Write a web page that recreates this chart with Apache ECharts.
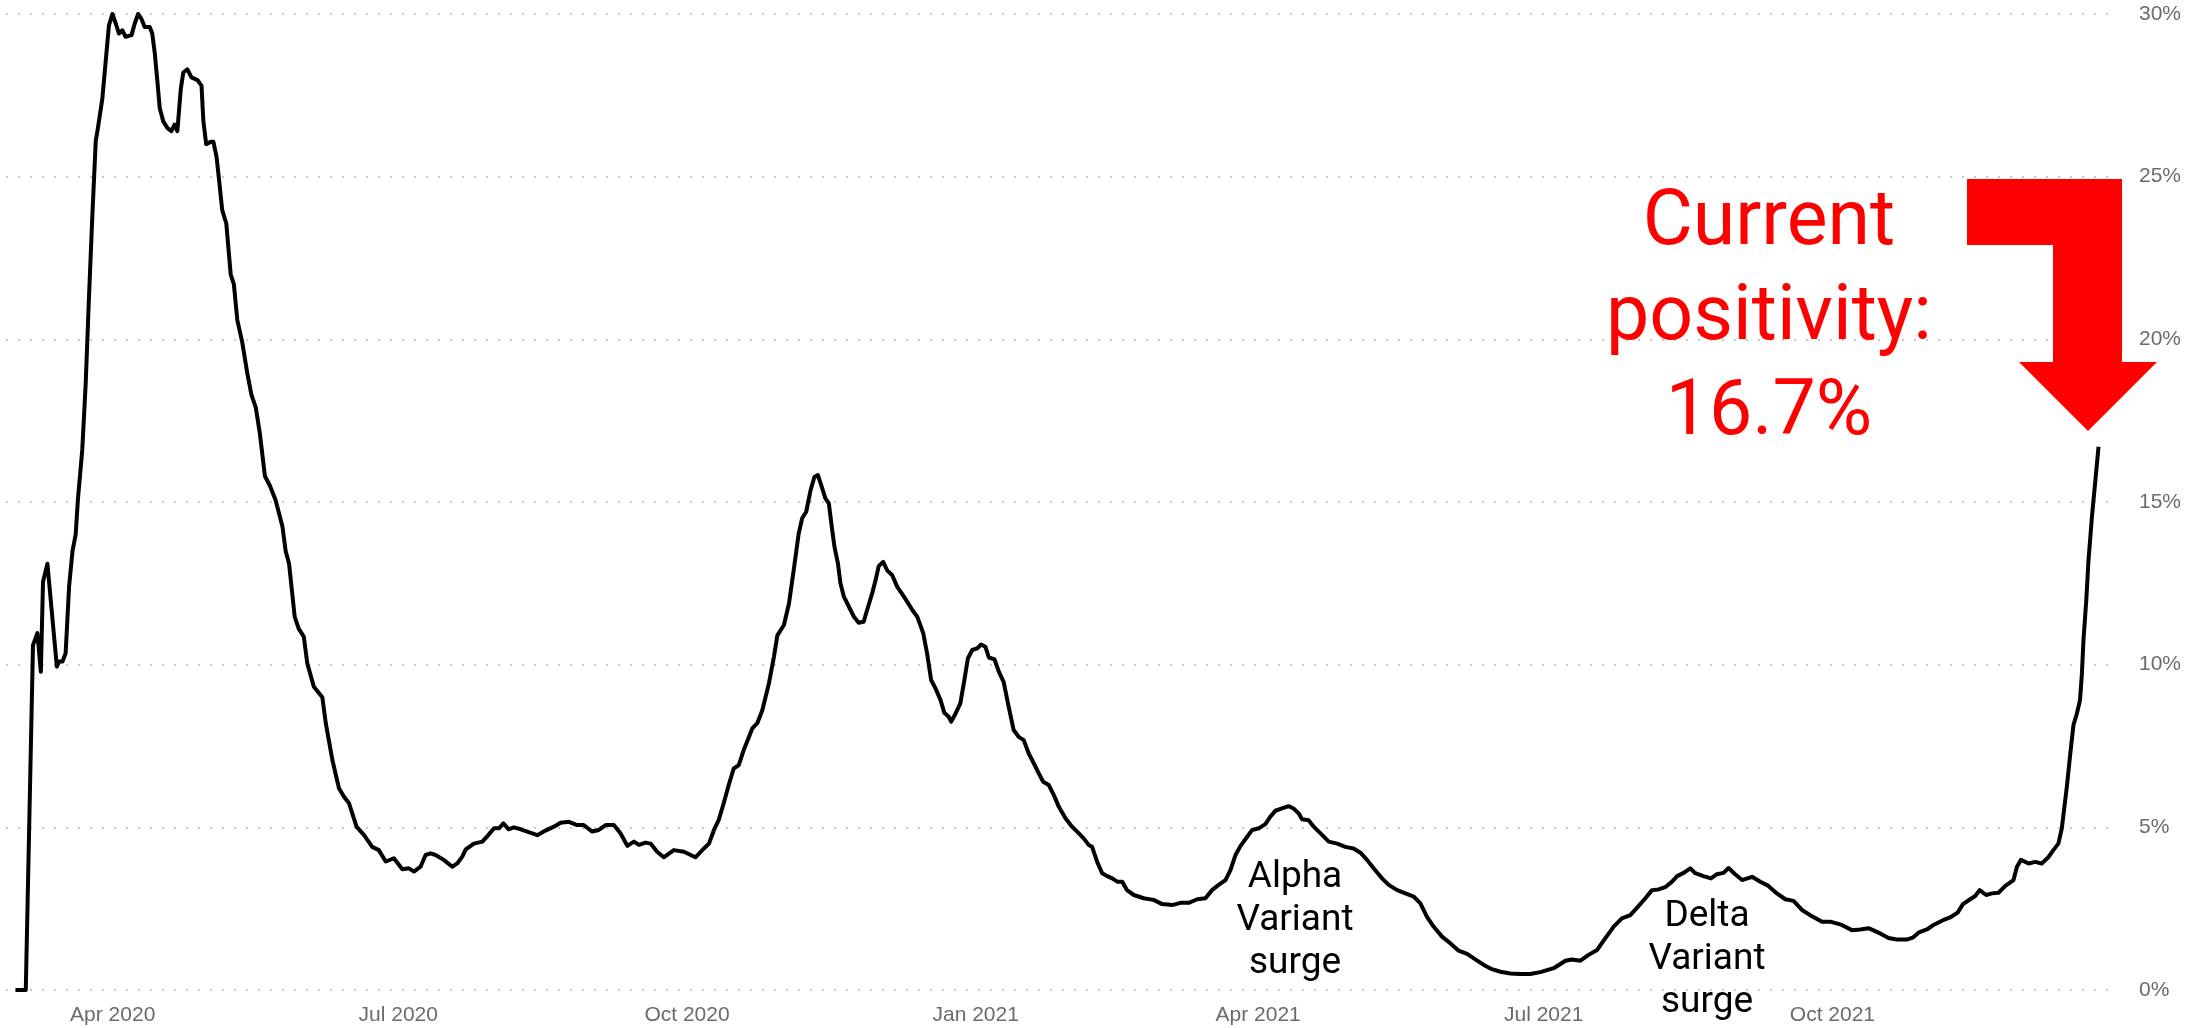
<!DOCTYPE html>
<html>
<head>
<meta charset="utf-8">
<title>Test positivity</title>
<script src="https://cdn.jsdelivr.net/npm/echarts@6/dist/echarts.min.js"></script>
<style>
  html, body { margin: 0; padding: 0; background: #fff; }
  #chart { width: 2206px; height: 1028px; }
</style>
</head>
<body>
<div id="chart"></div>
<script>
// days since 2020-03-01
var days = [
  0, 3.3, 5.6, 7.0, 8.1, 8.8, 10.2, 13.2, 13.9, 15.0, 16.0, 17.1, 18.2, 19.2, 19.9,
  21.3, 22.4, 23.4, 24.5, 25.6, 26.3, 27.7, 29.1, 29.8, 30.9, 32.0, 33.0, 34.1, 35.1, 37.0,
  38.0, 39.1, 40.1, 41.2, 42.8, 43.6, 44.4, 45.2, 46.0, 47.1, 48.4, 49.7, 50.7, 51.6, 52.7,
  53.5, 54.8, 56.1, 58.0, 59.3, 59.9, 60.8, 62.2, 63.1, 64.1, 64.9, 65.9, 67.2, 68.6, 69.6,
  70.7, 72.3, 73.9, 75.2, 76.6, 77.9, 79.5, 81.1, 82.9,
  85.1, 86.1, 87.2, 89.0, 90.3, 91.9, 93.0, 95.1, 97.8, 98.9, 101.0, 103.1, 104.7, 106.3,
  108.7, 111.1, 113.7, 115.8,
  118.0, 120.6, 123.3, 125.4, 127.0, 129.1, 130.7, 132.3, 133.9, 136.5, 139.2, 140.8, 142.4,
  143.5, 146.1, 148.8, 150.4, 152.5, 154.1, 155.5, 157.2, 158.8, 161.0, 163.1, 166.3, 168.9,
  171.6, 173.7, 176.4, 179.0, 181.1, 183.8, 185.9, 188.1, 190.7, 192.8, 195.0, 197.1, 198.7,
  200.8, 202.4, 204.5, 206.6, 209.8, 213.0, 216.7, 219.4, 221.0, 222.6, 224.1, 225.7, 227.3,
  228.9, 230.5, 232.1, 234.8, 236.4, 238.0, 240.1, 241.7, 242.8,
  244.9, 246.5, 248.0, 249.6, 250.7, 252.0, 253.4, 254.6, 255.7, 257.1, 258.1, 259.2, 260.0,
  261.0, 262.1, 262.9, 264.0, 265.6, 267.2, 268.7, 270.3, 271.4, 273.0, 274.1, 275.1, 276.5,
  277.8, 279.4, 281.0, 282.6, 284.2, 285.8, 287.4, 289.3, 290.5, 291.8, 293.2, 294.8, 296.0,
  297.4, 298.2, 299.6, 301.1, 302.4, 303.5, 304.9, 306.5, 307.7, 309.1, 310.2, 312.0, 313.4,
  314.9, 316.5, 318.1, 319.7, 321.3, 322.9, 324.5, 326.1, 327.5, 329.3, 330.9, 332.5, 334.6,
  336.7, 338.8, 340.4, 342.0, 343.1, 344.7, 346.3, 347.9, 349.5, 351.1, 352.7, 354.2, 356.4,
  359.5, 362.7, 365.4, 368.6, 371.2, 373.9, 376.6, 379.2, 381.3, 383.4, 385.6, 387.2, 388.8,
  390.4, 392.5, 394.1, 396.2, 398.3, 399.9, 401.5, 403.6, 405.7, 407.3, 408.9, 410.0, 412.1,
  413.7, 415.8, 418.5, 421.2, 423.8, 426.4, 428.6, 430.7, 432.8, 435.5, 437.6, 440.3, 442.9,
  445.6, 447.7, 449.8, 451.9, 454.6, 457.2, 459.9, 462.6, 465.2, 467.9, 470.5, 473.2, 476.4,
  479.5, 482.7, 485.9,
  490.2, 493.9, 496.0, 498.7, 501.3, 504.0, 506.6, 509.3, 511.9, 514.6, 517.2, 519.4, 521.5,
  523.6, 525.7, 527.9, 529.5, 531.6, 533.7, 535.3, 537.9, 540.3, 542.2, 544.3, 545.9, 548.0,
  550.2, 553.4, 556.0, 558.6, 561.3, 564.0, 566.6, 569.3, 571.9, 575.7, 578.3, 582.0, 585.2,
  587.9, 590.5, 594.2, 596.9, 599.5, 602.7,
  604.8, 606.4, 609.1, 611.2, 613.9, 616.5, 618.9, 620.6, 622.9, 624.5, 625.9, 628.0, 629.8,
  631.9, 634.1, 636.7, 637.8, 639.1, 641.5, 643.6, 645.7, 647.8, 649.4, 651.0, 652.1, 652.8,
  653.7, 654.8, 655.8, 656.9, 657.9, 658.5, 659.0, 659.9, 660.6, 661.7, 662.2, 663.8
];

// positivity in percent, same order as days
var positivity = [
  0, 0, 10.6, 10.97, 9.78, 12.55, 13.1, 9.94, 10.1, 10.1, 10.35, 12.4, 13.5, 14.0, 15.06,
  16.6, 18.65, 21.2, 23.77, 26.1, 26.5, 27.4, 28.9, 29.65, 30.0, 29.7, 29.4, 29.5, 29.3, 29.35,
  29.7, 30.0, 29.86, 29.6, 29.6, 29.4, 28.8, 27.97, 27.1, 26.7, 26.5, 26.4, 26.6, 26.4, 27.7,
  28.2, 28.3, 28.05, 27.97, 27.8, 26.7, 26.0, 26.07, 26.07, 25.6, 24.9, 23.97, 23.56, 22.0, 21.7,
  20.6, 19.9, 18.95, 18.3, 17.9, 17.1, 15.8, 15.5, 15.06,
  14.24, 13.5, 13.1, 11.47, 11.1, 10.86, 10.04, 9.32, 9.0, 8.2, 7.07, 6.2, 5.94, 5.74,
  5.02, 4.76, 4.4, 4.3,
  3.95, 4.05, 3.71, 3.74, 3.64, 3.79, 4.15, 4.2, 4.15, 4.0, 3.79, 3.89, 4.1,
  4.32, 4.5, 4.56, 4.73, 4.97, 4.97, 5.12, 4.94, 5.0, 4.94, 4.87, 4.76, 4.9,
  5.02, 5.14, 5.17, 5.07, 5.07, 4.87, 4.92, 5.07, 5.07, 4.82, 4.43, 4.56, 4.46,
  4.53, 4.5, 4.25, 4.08, 4.3, 4.25, 4.08, 4.35, 4.5, 4.92, 5.22, 5.74, 6.3,
  6.81, 6.91, 7.38, 8.04, 8.2, 8.6, 9.42, 10.24, 10.9,
  11.22, 11.88, 12.9, 14.03, 14.5, 14.7, 15.37, 15.77, 15.83, 15.42, 15.11, 14.96, 14.34,
  13.62, 13.11, 12.5, 12.09, 11.78, 11.47, 11.29, 11.32, 11.68, 12.19, 12.6, 13.03, 13.16,
  12.9, 12.75, 12.39, 12.17, 11.93, 11.68, 11.47, 10.96, 10.35, 9.53, 9.27, 8.91, 8.52,
  8.4, 8.25, 8.5, 8.81, 9.53, 10.19, 10.45, 10.5, 10.62, 10.55, 10.22, 10.16, 9.78,
  9.47, 8.71, 7.99, 7.78, 7.68, 7.27, 6.97, 6.66, 6.4, 6.3, 5.99, 5.63, 5.28,
  5.02, 4.82, 4.66, 4.46, 4.4, 3.94, 3.59, 3.5, 3.43, 3.33, 3.33, 3.07, 2.92,
  2.82, 2.77, 2.64, 2.61, 2.68, 2.68, 2.79, 2.82, 3.07, 3.23, 3.38, 3.69, 4.15,
  4.43, 4.71, 4.92, 4.97, 5.1, 5.33, 5.51, 5.58, 5.65, 5.58, 5.43, 5.25, 5.22,
  5.02, 4.82, 4.56, 4.5, 4.4, 4.35, 4.22, 4.0, 3.74, 3.43, 3.23, 3.07, 2.97,
  2.87, 2.66, 2.25, 1.95, 1.64, 1.44, 1.21, 1.11, 0.94, 0.77, 0.64, 0.56, 0.51,
  0.49, 0.49, 0.55,
  0.67, 0.9, 0.94, 0.9, 1.08, 1.23, 1.59, 1.95, 2.2, 2.3, 2.58, 2.82, 3.07,
  3.09, 3.16, 3.33, 3.5, 3.6, 3.74, 3.59, 3.5, 3.43, 3.56, 3.6, 3.75, 3.56,
  3.38, 3.48, 3.33, 3.2, 2.97, 2.79, 2.74, 2.46, 2.3, 2.1, 2.1, 2.0, 1.84,
  1.86, 1.9, 1.74, 1.6, 1.55, 1.55,
  1.62, 1.76, 1.86, 2.0, 2.13, 2.23, 2.38, 2.64, 2.79, 2.89, 3.07, 2.92, 2.97,
  2.99, 3.2, 3.38, 3.79, 4.0, 3.89, 3.94, 3.89, 4.08, 4.3, 4.5, 4.97, 5.53,
  6.25, 7.27, 8.14, 8.5, 8.91, 9.73, 10.76, 11.99, 13.21, 14.55, 15.06, 16.7
];

// x tick positions (days since 2020-03-01) and their labels
var tickDays = [31, 122, 214, 306, 396, 487, 579];
var tickLabels = ['Apr 2020', 'Jul 2020', 'Oct 2020', 'Jan 2021', 'Apr 2021', 'Jul 2021', 'Oct 2021'];

var yTicks = [0, 5, 10, 15, 20, 25, 30];

var chart = echarts.init(document.getElementById('chart'), null, { renderer: 'canvas' });

var points = [];
for (var i = 0; i < days.length; i++) {
  points.push([days[i], positivity[i]]);
}

var labelFont = '"Liberation Sans", Arial, sans-serif';
var noteFont = 'Roboto, "Noto Sans", sans-serif';

chart.setOption({
  animation: false,
  backgroundColor: '#ffffff',
  grid: { left: 6, right: 88, top: 14, bottom: 38 },
  xAxis: {
    type: 'value',
    min: -3,
    max: 670,
    axisLine: { show: false },
    axisTick: { show: false },
    splitLine: { show: false },
    axisLabel: {
      customValues: tickDays,
      margin: 15,
      color: '#6b6b6b',
      fontSize: 21,
      fontFamily: labelFont,
      formatter: function (v) {
        var k = tickDays.indexOf(v);
        return k >= 0 ? tickLabels[k] : '';
      }
    }
  },
  yAxis: {
    type: 'value',
    position: 'right',
    min: yTicks[0],
    max: yTicks[yTicks.length - 1],
    interval: 5,
    axisLine: { show: false },
    axisTick: { show: false },
    splitLine: {
      show: true,
      lineStyle: { color: '#c8c8c8', width: 2, type: [2, 10] }
    },
    axisLabel: {
      margin: 21,
      color: '#6b6b6b',
      fontSize: 21,
      fontFamily: labelFont,
      formatter: '{value}%'
    }
  },
  series: [{
    type: 'line',
    data: points,
    showSymbol: false,
    smooth: false,
    lineStyle: { color: '#000000', width: 4, join: 'round' },
    z: 3
  }],
  graphic: [
    {
      type: 'polygon',
      z: 10,
      shape: {
        points: [[1967, 179], [2122, 179], [2122, 362], [2157, 362], [2088, 431],
                 [2019, 362], [2053, 362], [2053, 245], [1967, 245]]
      },
      style: { fill: '#ff0000' }
    },
    {
      type: 'text',
      z: 10,
      x: 1769,
      y: 320,
      style: {
        text: 'Current\npositivity:\n16.7%',
        fill: '#ff0000',
        fontSize: 77,
        fontFamily: noteFont,
        lineHeight: 95,
        align: 'center',
        verticalAlign: 'middle'
      }
    },
    {
      type: 'text',
      z: 10,
      x: 1295,
      y: 921,
      style: {
        text: 'Alpha\nVariant\nsurge',
        fill: '#000000',
        fontSize: 37,
        fontFamily: noteFont,
        lineHeight: 43,
        align: 'center',
        verticalAlign: 'middle'
      }
    },
    {
      type: 'text',
      z: 10,
      x: 1707,
      y: 960,
      style: {
        text: 'Delta\nVariant\nsurge',
        fill: '#000000',
        fontSize: 37,
        fontFamily: noteFont,
        lineHeight: 43,
        align: 'center',
        verticalAlign: 'middle'
      }
    }
  ]
});
</script>
</body>
</html>
